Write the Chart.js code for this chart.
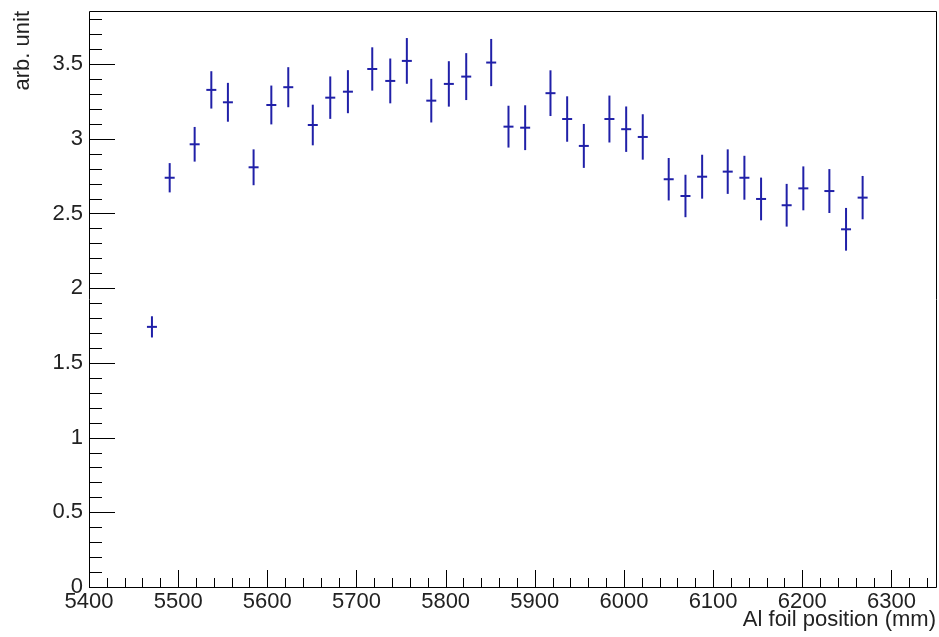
<!DOCTYPE html>
<html>
<head>
<meta charset="utf-8">
<script src="https://cdn.jsdelivr.net/npm/chart.js@4.4.1/dist/chart.umd.min.js"></script>
<style>
  html, body { margin: 0; padding: 0; background: #fff; }
  #wrap { width: 939px; height: 637px; }
</style>
</head>
<body>
<div id="wrap"><canvas id="c" width="939" height="637"></canvas></div>
<script>
// Foil positions (mm)
const positions = [5470.6, 5490.5, 5518.5, 5537.2, 5555.8, 5584.6, 5604.5, 5623.5, 5651.0, 5670.6,
  5690.4, 5717.7, 5737.9, 5756.5, 5783.9, 5803.6, 5823.1, 5851.1, 5870.5, 5889.2,
  5917.6, 5936.3, 5955.0, 5983.7, 6002.5, 6021.1, 6050.2, 6069.0, 6087.7, 6116.4,
  6135.1, 6153.8, 6182.5, 6201.2, 6230.4, 6249.1, 6267.7];
// Measured yield (arb. unit)
const yields = [1.741, 2.739, 2.963, 3.327, 3.244, 2.809, 3.226, 3.345, 3.092, 3.275,
  3.315, 3.467, 3.387, 3.521, 3.255, 3.367, 3.416, 3.510, 3.081, 3.074,
  3.305, 3.132, 2.952, 3.132, 3.064, 3.012, 2.729, 2.617, 2.746, 2.780,
  2.739, 2.597, 2.555, 2.668, 2.650, 2.394, 2.606];
// Statistical uncertainty on each yield
const yieldErrors = [0.071, 0.098, 0.116, 0.125, 0.130, 0.120, 0.130, 0.134, 0.136, 0.142,
  0.144, 0.145, 0.150, 0.153, 0.146, 0.152, 0.157, 0.158, 0.140, 0.150,
  0.153, 0.152, 0.147, 0.157, 0.152, 0.152, 0.142, 0.142, 0.147, 0.149,
  0.147, 0.143, 0.143, 0.147, 0.147, 0.143, 0.145];
// Labelled axis ticks
const xTickValues = [5400, 5500, 5600, 5700, 5800, 5900, 6000, 6100, 6200, 6300];
const yTickValues = [0, 0.5, 1, 1.5, 2, 2.5, 3, 3.5];

const markColor = 'rgb(32,32,168)';
const fontFamily = '"Liberation Sans", Arial, Helvetica, sans-serif';

// Vertical error bars drawn through the chart's scales
const errorBars = {
  id: 'errorBars',
  afterDatasetsDraw(chart) {
    const { ctx, scales: { x, y } } = chart;
    ctx.save();
    ctx.strokeStyle = markColor;
    ctx.lineWidth = 2;
    positions.forEach((p, i) => {
      const px = x.getPixelForValue(p);
      ctx.beginPath();
      ctx.moveTo(px, y.getPixelForValue(yields[i] - yieldErrors[i]));
      ctx.lineTo(px, y.getPixelForValue(yields[i] + yieldErrors[i]));
      ctx.stroke();
    });
    ctx.restore();
  }
};

// Frame with inward major/minor ticks
const frameTicks = {
  id: 'frameTicks',
  afterDraw(chart) {
    const { ctx, chartArea: a, scales: { x, y } } = chart;
    ctx.save();
    ctx.strokeStyle = '#000';
    ctx.lineWidth = 1;
    ctx.beginPath();
    ctx.rect(Math.round(a.left) + 0.5, Math.round(a.top) + 0.5,
             Math.round(a.right - a.left), Math.round(a.bottom - a.top));
    ctx.stroke();
    ctx.beginPath();
    for (let v = x.min; v <= x.max + 1e-9; v += 20) {
      const major = Math.abs(v % 100) < 1e-6;
      const px = Math.round(x.getPixelForValue(v)) + 0.5;
      ctx.moveTo(px, a.bottom);
      ctx.lineTo(px, a.bottom - (major ? 17 : 9));
    }
    for (let k = 0; k * 0.1 <= y.max + 1e-9; k++) {
      const v = k * 0.1;
      const major = k % 5 === 0;
      const py = Math.round(y.getPixelForValue(v)) + 0.5;
      ctx.moveTo(a.left, py);
      ctx.lineTo(a.left + (major ? 26 : 13), py);
    }
    ctx.stroke();
    ctx.restore();
  }
};

// Keep the plot frame at a fixed place: no extra room for edge labels
function noEdgePadding(s) {
  s.paddingLeft = 0; s.paddingRight = 0; s.paddingTop = 0; s.paddingBottom = 0;
}

new Chart(document.getElementById('c'), {
  type: 'scatter',
  data: {
    datasets: [{
      data: positions.map((p, i) => ({ x: p, y: yields[i] })),
      pointStyle: 'line',
      pointRadius: 5,
      pointHoverRadius: 5,
      borderColor: markColor,
      backgroundColor: markColor,
      pointBorderWidth: 2,
      showLine: false
    }]
  },
  options: {
    responsive: false,
    animation: false,
    events: [],
    layout: { autoPadding: false, padding: { top: 11, right: 3, left: 0, bottom: 0 } },
    plugins: { legend: { display: false }, tooltip: { enabled: false } },
    scales: {
      x: {
        type: 'linear',
        min: 5400,
        max: 6350,
        afterBuildTicks: s => { s.ticks = xTickValues.map(v => ({ value: v })); },
        afterFit: s => { s.height = 50; noEdgePadding(s); },
        grid: { display: false, drawTicks: false },
        border: { display: false },
        ticks: {
          color: '#222',
          padding: 2,
          maxRotation: 0,
          autoSkip: false,
          font: { family: fontFamily, size: 22 },
          callback: v => String(v)
        },
        title: {
          display: true,
          text: 'Al foil position (mm)',
          align: 'end',
          color: '#222',
          padding: { top: 0, bottom: 4 },
          font: { family: fontFamily, size: 22 }
        }
      },
      y: {
        type: 'linear',
        min: 0,
        max: 3.855,
        afterBuildTicks: s => { s.ticks = yTickValues.map(v => ({ value: v })); },
        afterFit: s => { s.width = 89; noEdgePadding(s); },
        grid: { display: false, drawTicks: false },
        border: { display: false },
        ticks: {
          color: '#222',
          padding: 6,
          autoSkip: false,
          font: { family: fontFamily, size: 22 },
          callback: v => String(v)
        },
        title: {
          display: true,
          text: 'arb. unit',
          align: 'end',
          color: '#222',
          padding: { top: 10, bottom: 0 },
          font: { family: fontFamily, size: 22 }
        }
      }
    }
  },
  plugins: [errorBars, frameTicks]
});
</script>
</body>
</html>
